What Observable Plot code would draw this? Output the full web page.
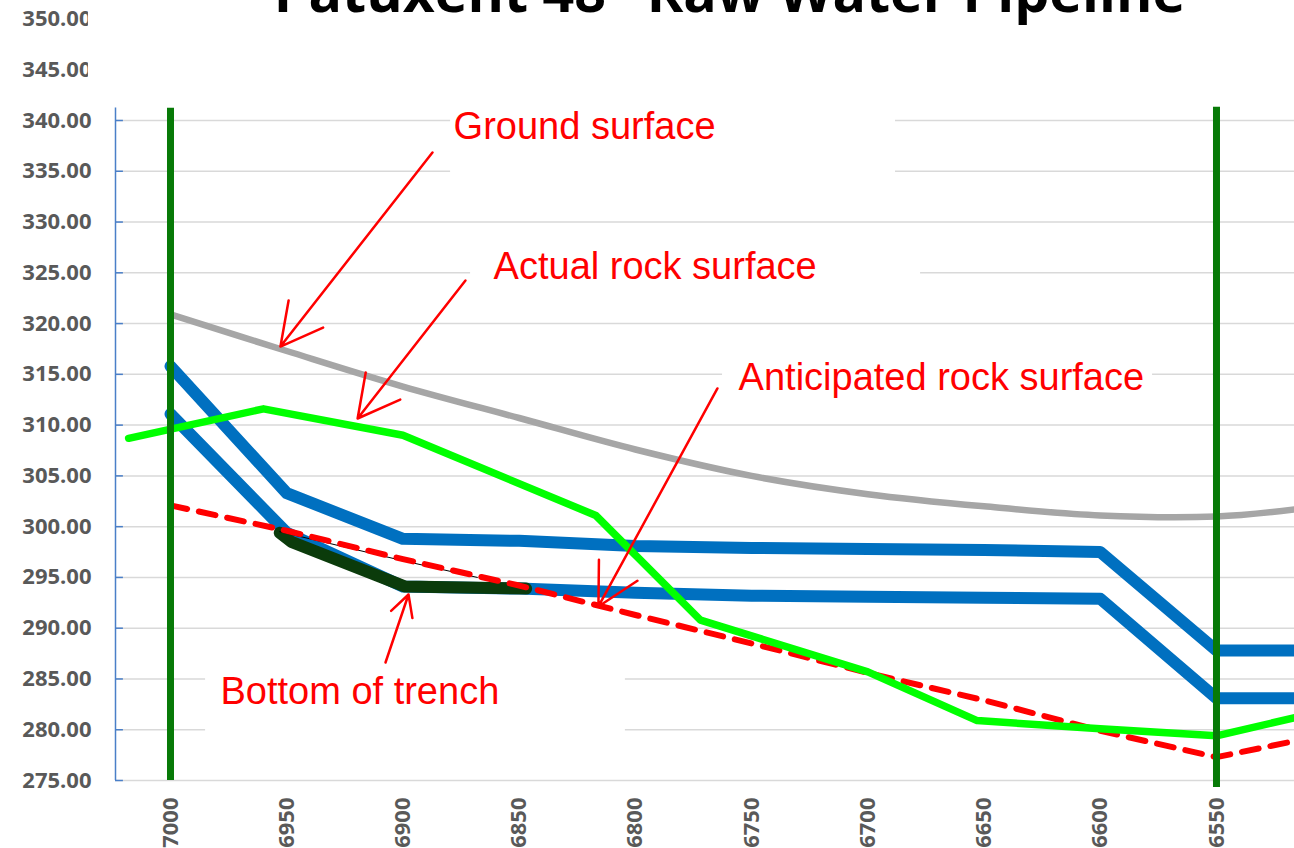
<!DOCTYPE html>
<html><head><meta charset="utf-8">
<script src="https://cdn.jsdelivr.net/npm/d3@7"></script>
<script src="https://cdn.jsdelivr.net/npm/@observablehq/plot@0.6"></script>
<style>html,body{margin:0;padding:0;background:#fff;overflow:hidden;} #chart svg{display:block;}</style>
</head><body><div id="chart"></div><script>
// ---- data ----
const titleText = "Patuxent 48\" Raw Water Pipeline";
const xTicks = [7000, 6950, 6900, 6850, 6800, 6750, 6700, 6650, 6600, 6550];
const yTicks = [275, 280, 285, 290, 295, 300, 305, 310, 315, 320, 325, 330, 335, 340, 345, 350];
const gridTicks = yTicks.filter(v => v <= 340);
const xDomain = [7023.66, 6516.44];
const yDomain = [275, 350];

const stations   = [7000, 6950, 6900, 6850, 6800, 6750, 6700, 6650, 6600, 6550, 6516];
const ground     = [320.9, 317.3, 313.8, 310.7, 307.6, 305.0, 303.2, 302.0, 301.1, 301.0, 301.7];
const pipeTop    = [315.8, 303.3, 298.8, 298.6, 298.1, 297.9, 297.8, 297.7, 297.5, 287.8, 287.8];
const pipeBottom = [311.1, 299.4, 294.1, 293.9, 293.5, 293.2, 293.1, 293.0, 292.9, 283.1, 283.1];
const anticipated= [302.1, 299.6, 296.8, 294.2, 291.3, 288.5, 285.6, 282.9, 279.9, 277.3, 278.9];

const actualX = [7018, 6960, 6900, 6817, 6772, 6700, 6653, 6600, 6550, 6516];
const actualY = [308.7, 311.6, 309.0, 301.1, 290.8, 285.7, 280.9, 280.1, 279.4, 281.2];

const trenchX = [6953, 6948, 6899, 6847];
const trenchY = [299.4, 298.5, 294.1, 293.9];
const trenchEdgeX = [6953, 6901, 6868];
const trenchEdgeY = [299.5, 296.7, 295.0];

const boundaryX  = [7000, 6550];
const boundaryY1 = [275, 274.3];
const boundaryY2 = [341.2, 341.3];

const labels = ["Ground surface", "Actual rock surface", "Anticipated rock surface", "Bottom of trench"];
const labelX = [6878.2, 6861.0, 6755.6, 6978.5];
const labelY = [339.41, 325.62, 314.69, 283.76];
const boxX1 = [6879.5, 6870.9, 6762.5, 6984.9];
const boxX2 = [6688.1, 6677.3, 6577.5, 6804.3];
const boxY1 = [333.6, 322.27, 312.42, 278.15];
const boxY2 = [341.97, 328.18, 317.15, 287.31];

const arrowX1 = [6887.3, 6873.1, 6764.7, 6907.5];
const arrowY1 = [336.85, 324.24, 313.61, 286.62];
const arrowX2 = [6952.7, 6919.5, 6815.9, 6897.6];
const arrowY2 = [317.74, 310.65, 292.14, 293.32];

// ---- tables ----
const series = (xs, ys) => xs.map((x, i) => ({x, y: ys[i]}));
const boundaries = boundaryX.map((x, i) => ({x, y1: boundaryY1[i], y2: boundaryY2[i]}));
const notes = labels.map((t, i) => ({t, x: labelX[i], y: labelY[i]}));
const boxes = labels.map((t, i) => ({x1: boxX1[i], x2: boxX2[i], y1: boxY1[i], y2: boxY2[i]}));
const arrows = arrowX1.map((x1, i) => ({x1, y1: arrowY1[i], x2: arrowX2[i], y2: arrowY2[i]}));

const axisFont = {fontFamily: "Open Sans", fontSize: 22, fontWeight: 700, fill: "#595959"};

const chart = Plot.plot({
  width: 1294,
  height: 848,
  marginLeft: 115,
  marginRight: 0,
  marginTop: 18.46,
  marginBottom: 68,
  x: {domain: xDomain, axis: null},
  y: {domain: yDomain, axis: null},
  marks: [
    Plot.ruleY(gridTicks, {y: d => d, x1: xDomain[0], x2: xDomain[1], stroke: "#d9d9d9", strokeWidth: 1.5}),
    Plot.rect(boxes, {x1: "x1", x2: "x2", y1: "y1", y2: "y2", fill: "white"}),
    Plot.ruleX([xDomain[0]], {x: d => d, y1: 275, y2: 341.24, stroke: "#4a7fc8", strokeWidth: 1.5}),
    Plot.ruleY(gridTicks, {y: d => d, x1: xDomain[0], x2: xDomain[0] - 3.4, stroke: "#4a7fc8", strokeWidth: 1.5}),
    Plot.axisY({ticks: yTicks, tickFormat: d3.format(".2f"), tickSize: 0, tickPadding: 24, ...axisFont}),
    Plot.axisX({ticks: xTicks, tickFormat: d3.format("d"), tickRotate: -90, tickSize: 0, tickPadding: 17, ...axisFont}),
    Plot.rect([0], {x1: 7035.3, x2: xDomain[0], y1: 342, y2: 352.5, fill: "white"}),
    Plot.line(series(stations, ground), {x: "x", y: "y", stroke: "#a6a6a6", strokeWidth: 6.5, curve: "catmull-rom", clip: true}),
    Plot.line(series(stations, pipeTop), {x: "x", y: "y", stroke: "#0070c0", strokeWidth: 12, clip: true}),
    Plot.line(series(stations, pipeBottom), {x: "x", y: "y", stroke: "#0070c0", strokeWidth: 12, clip: true}),
    Plot.line(series(trenchX, trenchY), {x: "x", y: "y", stroke: "#0b3b0b", strokeWidth: 12, clip: true}),
    Plot.line(series(trenchEdgeX, trenchEdgeY), {x: "x", y: "y", stroke: "#000", strokeWidth: 1, clip: true}),
    Plot.line(series(stations, anticipated), {x: "x", y: "y", stroke: "#ff0000", strokeWidth: 6, strokeDasharray: "17,12", strokeLinecap: "round", clip: true}),
    Plot.line(series(actualX, actualY), {x: "x", y: "y", stroke: "#00ff00", strokeWidth: 7.5, clip: true}),
    Plot.ruleX(boundaries, {x: "x", y1: "y1", y2: "y2", stroke: "#077a07", strokeWidth: 7}),
    Plot.arrow(arrows, {x1: "x1", y1: "y1", x2: "x2", y2: "y2", stroke: "#ff0000", strokeWidth: 2.5, headLength: 28, headAngle: 56}),
    Plot.text(notes, {x: "x", y: "y", text: "t", textAnchor: "start", fill: "#ff0000", fontSize: 38, fontFamily: "Liberation Sans"}),
    Plot.text([titleText], {text: d => d, frameAnchor: "top", lineAnchor: "middle", dx: 24.5, dy: -25.2, fontSize: 55.5, fontWeight: "bold", fontFamily: "Open Sans", fill: "#000"})
  ]
});
document.getElementById("chart").appendChild(chart);
</script></body></html>
